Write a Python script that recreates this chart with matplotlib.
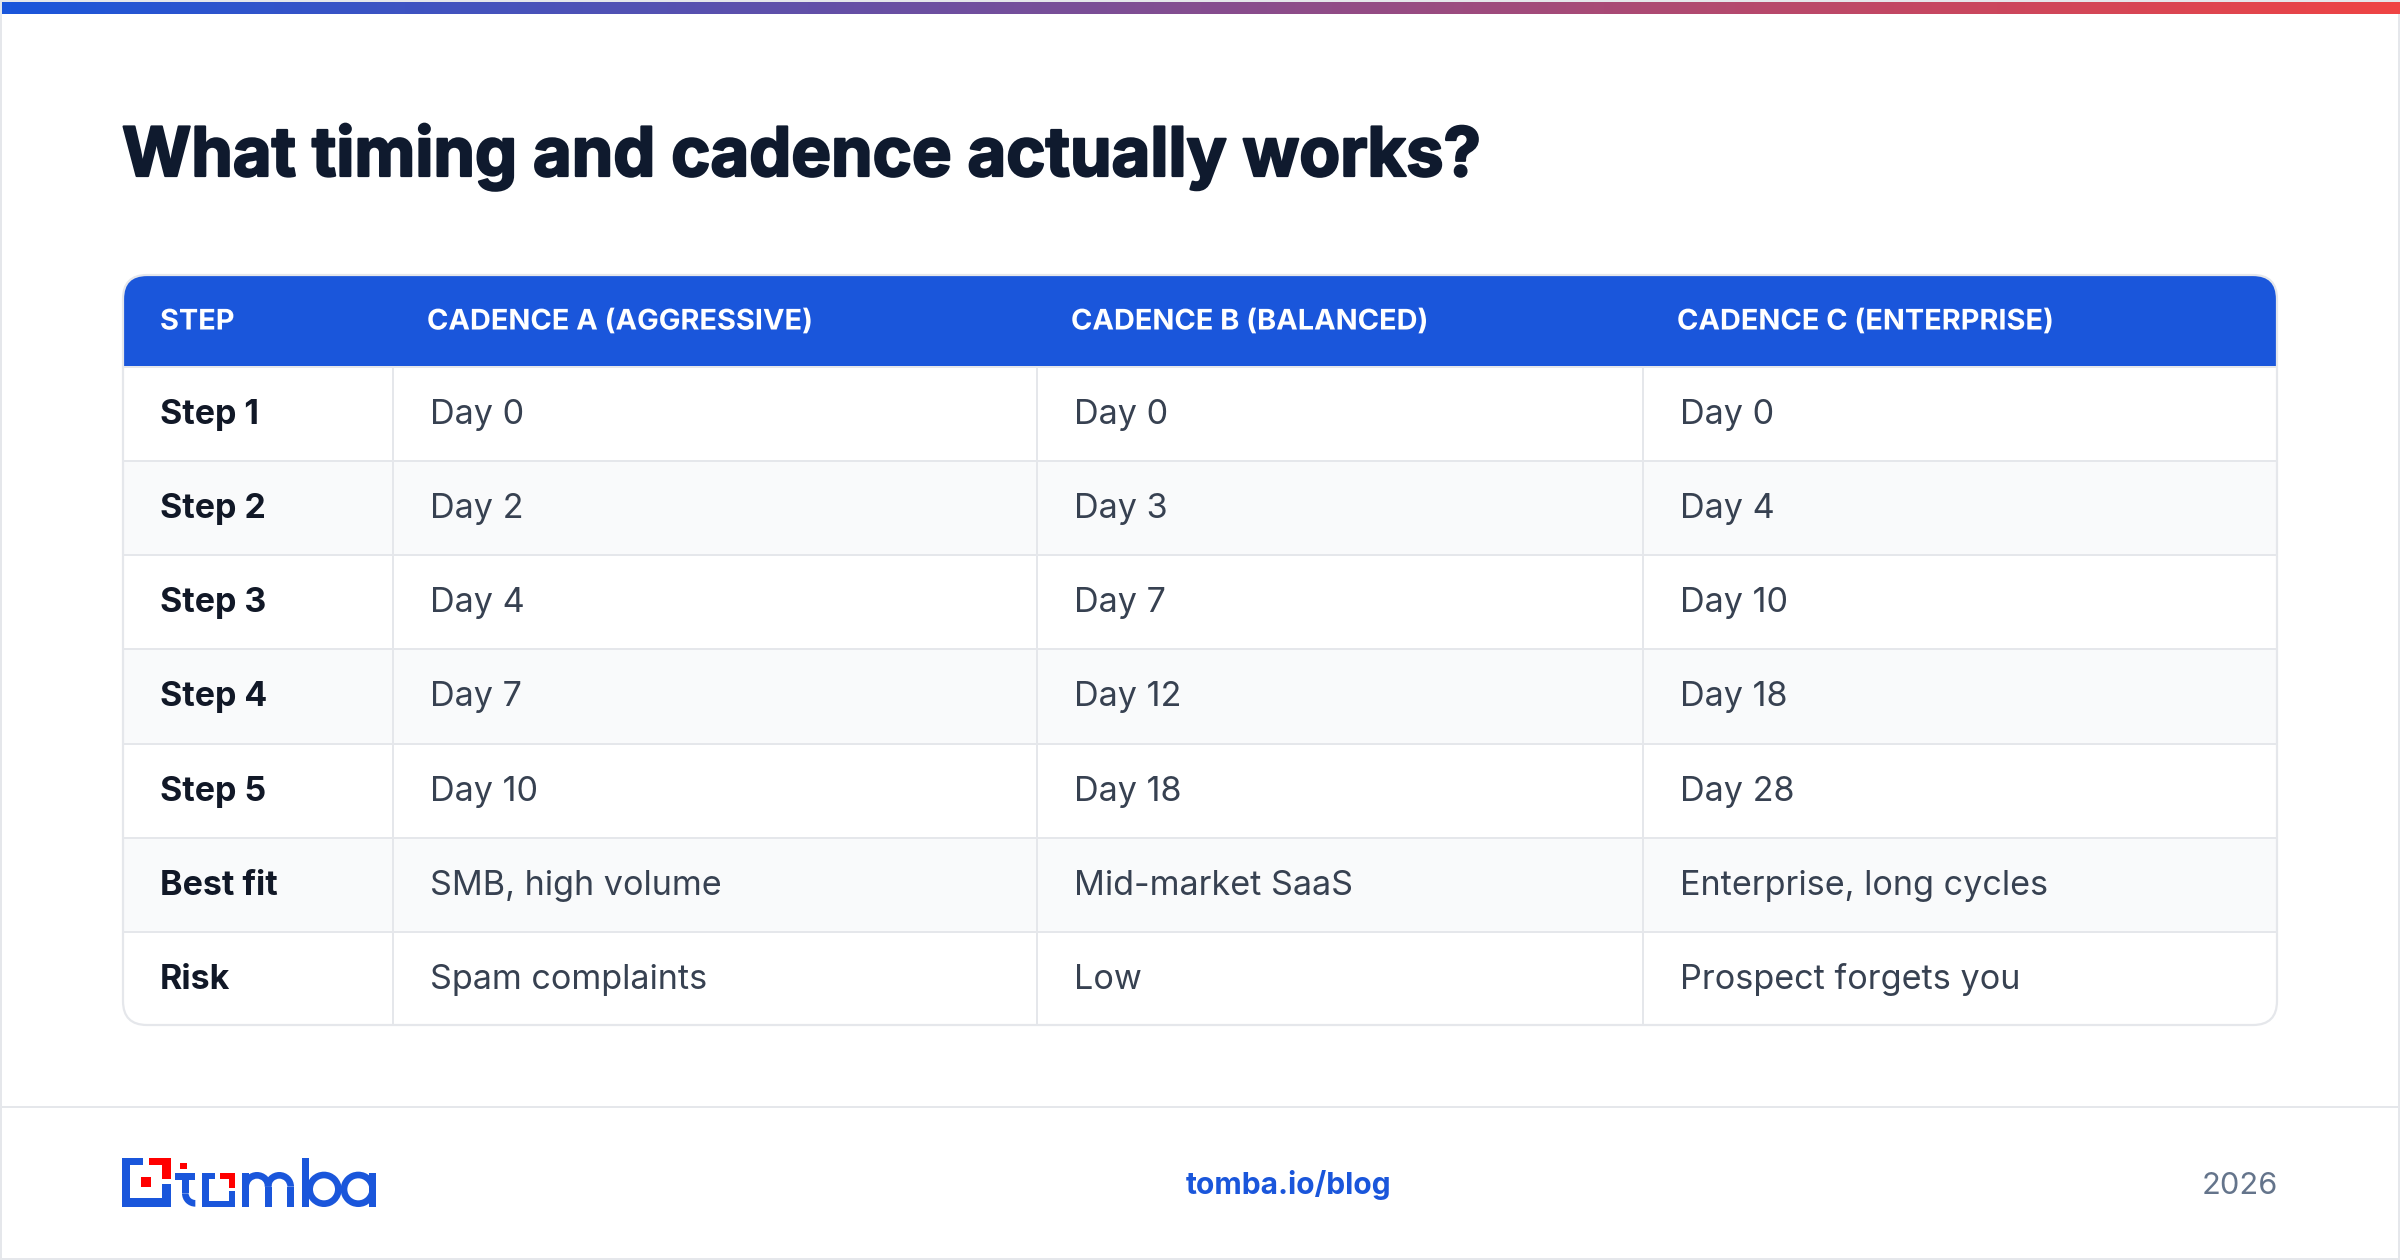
import numpy as np
import matplotlib
matplotlib.use("Agg")
import matplotlib.pyplot as plt
from matplotlib.patches import Rectangle, FancyBboxPatch, Wedge
from matplotlib.patheffects import AbstractPathEffect
from matplotlib.transforms import Affine2D

BLUE = '#1a56db'
RED = '#ff0000'
BORDER = '#e5e7eb'
DARK = '#111827'
NAVY = '#0f1a2e'
BODY = '#374151'
ALT = '#f9fafb'

title = 'What timing and cadence actually works?'
headers = ['STEP', 'CADENCE A (AGGRESSIVE)', 'CADENCE B (BALANCED)', 'CADENCE C (ENTERPRISE)']
steps = ['Step 1', 'Step 2', 'Step 3', 'Step 4', 'Step 5', 'Best fit', 'Risk']
cadence_a = ['Day 0', 'Day 2', 'Day 4', 'Day 7', 'Day 10', 'SMB, high volume', 'Spam complaints']
cadence_b = ['Day 0', 'Day 3', 'Day 7', 'Day 12', 'Day 18', 'Mid-market SaaS', 'Low']
cadence_c = ['Day 0', 'Day 4', 'Day 10', 'Day 18', 'Day 28', 'Enterprise, long cycles', 'Prospect forgets you']
footer_link = 'tomba.io/blog'
footer_year = '2026'

plt.rcParams['font.family'] = ['Inter', 'DejaVu Sans']


class ScaleX(AbstractPathEffect):
	# css letter-spacing does not exist here, so scale glyphs around the text start
	def __init__(self, x0, factor, stroke=0):
		super().__init__()
		self.x0 = x0
		self.factor = factor
		self.stroke = stroke

	def draw_path(self, renderer, gc, tpath, affine, rgbFace=None):
		scale = Affine2D().translate(-self.x0, 0).scale(self.factor, 1).translate(self.x0, 0)
		gc0 = renderer.new_gc()
		gc0.copy_properties(gc)
		gc0.set_linewidth(self.stroke)
		gc0.set_foreground(rgbFace)
		renderer.draw_path(gc0, tpath, affine + scale, rgbFace)
		gc0.restore()


fig = plt.figure(figsize=(24, 12.6), dpi=100)
ax = fig.add_axes([0, 0, 1, 1])
ax.set_xlim(0, 2400)
ax.set_ylim(1260, 0)
ax.axis('off')


def rect(x0, y0, x1, y1, color, z=2):
	ax.add_patch(Rectangle((x0, y0), x1 - x0, y1 - y0, fc=color, ec='none', zorder=z))


# page frame and gradient bar on top
rect(0, 0, 2400, 2, BORDER)
rect(0, 0, 2, 1260, BORDER)
rect(2398, 0, 2400, 1260, BORDER)
rect(0, 1258, 2400, 1260, BORDER)
grad = np.linspace(0, 1, 512).reshape(1, -1)
bar_cmap = matplotlib.colors.LinearSegmentedColormap.from_list('bar', [BLUE, '#ef4444'])
ax.imshow(grad, extent=(2, 2400, 14, 2), cmap=bar_cmap, aspect='auto', zorder=3)
ax.set_xlim(0, 2400)
ax.set_ylim(1260, 0)

ax.text(122, 176, title, fontsize=49, fontweight='bold', color=NAVY, va='baseline',
	path_effects=[ScaleX(122, 0.981, stroke=1.6)])

# table
left, right, top, bottom = 123, 2277, 275, 1025
head_bottom = 366
row_h = (bottom - head_bottom) / len(steps)
col_lines = [393, 1037, 1643]
head_x = [160, 427, 1071, 1677]
cell_x = [160, 430, 1074, 1680]

card = FancyBboxPatch((left, top), right - left, bottom - top, boxstyle='round,pad=0,rounding_size=24',
	fc='white', ec='none', zorder=1)
ax.add_patch(card)
clip = FancyBboxPatch((left, top), right - left, bottom - top, boxstyle='round,pad=0,rounding_size=24',
	fc='none', ec=BORDER, lw=1.6, zorder=6)
ax.add_patch(clip)

header_rect = Rectangle((left, top), right - left, head_bottom - top, fc=BLUE, ec='none', zorder=2)
ax.add_patch(header_rect)
header_rect.set_clip_path(card)

for i in range(len(steps)):
	y0 = head_bottom + i * row_h
	if i % 2 == 1:
		rect(left, y0, right, y0 + row_h, ALT)
	rect(left, y0, right, y0 + 2, BORDER, z=4)
	ax.text(cell_x[0], y0 + 58, steps[i], fontsize=24.5, fontweight='bold', color=DARK, zorder=7)
	for x, col in zip(cell_x[1:], [cadence_a, cadence_b, cadence_c]):
		ax.text(x, y0 + 58, col[i], fontsize=24.6, color=BODY, zorder=7)

for x in col_lines:
	rect(x - 1, head_bottom, x + 1, bottom, BORDER, z=4)

for x, h in zip(head_x, headers):
	ax.text(x, 329.5, h, fontsize=20.4, fontweight='bold', color='white', zorder=7,
		path_effects=[ScaleX(x, 1.02)])

# footer
rect(0, 1106, 2400, 1108, BORDER)
ax.text(1288.5, 1194, footer_link, fontsize=21.6, fontweight='bold', color=BLUE, ha='center')
ax.text(2278, 1194, footer_year, fontsize=22.2, color='#64748b', ha='right')


# logo, coordinates measured on a 3x crop
def lx(v):
	return 80 + v / 3


def ly(v):
	return 1120 + v / 3


def lrect(x0, y0, x1, y1, color):
	rect(lx(x0), ly(y0), lx(x1), ly(y1), color)


def ring(cx, cy, r, t1=0, t2=360, w=20):
	ax.add_patch(Wedge((lx(cx), ly(cy)), r / 3, t1, t2, width=w / 3, fc=BLUE, ec='none', zorder=2))


lrect(126, 114, 190, 136, BLUE)
lrect(126, 114, 150, 260, BLUE)
lrect(126, 235, 272, 260, BLUE)
lrect(247, 193, 272, 260, BLUE)
lrect(206, 114, 272, 136, RED)
lrect(247, 114, 272, 178, RED)
lrect(184, 172, 214, 200, RED)
# t
lrect(301, 129, 321, 148, RED)
lrect(286, 160, 346, 180, BLUE)
lrect(306, 160, 326, 220, BLUE)
ring(346, 220, 40, 90, 180)
# o
lrect(366, 160, 386, 260, BLUE)
lrect(366, 160, 405, 178, BLUE)
lrect(366, 242, 466, 260, BLUE)
lrect(448, 212, 466, 260, BLUE)
lrect(421, 158, 466, 176, RED)
lrect(448, 158, 466, 204, RED)
# m
lrect(487, 160, 507, 260, BLUE)
ring(531, 200, 44, 180, 360)
lrect(555, 200, 575, 260, BLUE)
ring(598, 200, 44, 180, 360)
lrect(622, 200, 642, 260, BLUE)
# b
lrect(665, 114, 686, 260, BLUE)
ring(732, 208, 53)
# a
ring(835, 208, 53)
lrect(867, 158, 888, 260, BLUE)

fig.savefig('out.png', dpi=100)
